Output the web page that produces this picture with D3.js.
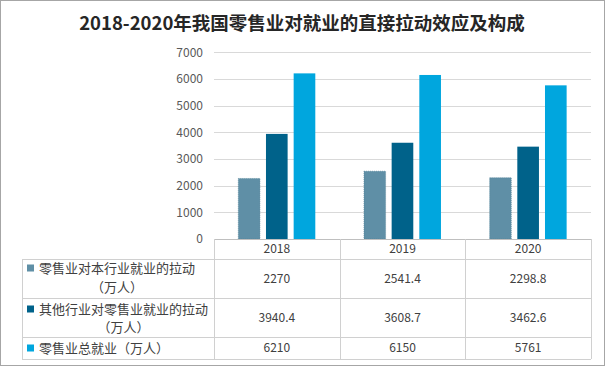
<!DOCTYPE html>
<html><head><meta charset="utf-8">
<script src="https://cdn.jsdelivr.net/npm/d3@7"></script>
<style>
html,body{margin:0;padding:0;background:#fff;}
svg{display:block;}
text{font-family:"Noto Sans CJK SC","Noto Sans",sans-serif;}
</style></head>
<body>
<script>
const title = "2018-2020年我国零售业对就业的直接拉动效应及构成";
const years = ["2018","2019","2020"];
const seriesNames = [["零售业对本行业就业的拉动","（万人）"],["其他行业对零售业就业的拉动","（万人）"],["零售业总就业（万人）"]];
const seriesLabels = [["2270","2541.4","2298.8"],["3940.4","3608.7","3462.6"],["6210","6150","5761"]];
const s1 = [2270,2541.4,2298.8];
const s2 = [3940.4,3608.7,3462.6];
const s3 = [6210,6150,5761];
const yTicks = [0,1000,2000,3000,4000,5000,6000,7000];
const colors = ["#5f8fa6","#00628a","#00a6de"];

const W=605,H=366;
const svg=d3.select("body").append("svg").attr("width",W).attr("height",H);
svg.append("rect").attr("x",0.5).attr("y",0.5).attr("width",W-1).attr("height",H-1).attr("fill","#fff").attr("stroke","#a6a6a6");

svg.append("text").attr("x",302).attr("y",30).attr("text-anchor","middle")
  .attr("font-size",18.5).attr("font-weight","bold").attr("fill","#262626").text(title);

const plotL=214, plotR=591, base=239, topY=52.3;
const y=d3.scaleLinear().domain([0,7000]).range([base,topY]);
const x0=d3.scaleBand().domain(years).range([plotL,plotR]).padding(0);
const x1=d3.scaleBand().domain([0,1,2]).range([24.3,101.3]).paddingInner(0.218).paddingOuter(0);

// grid
svg.append("g").selectAll("line").data(yTicks.filter(d=>d>0)).join("line")
  .attr("x1",plotL).attr("x2",plotR).attr("y1",d=>Math.round(y(d))+0.5).attr("y2",d=>Math.round(y(d))+0.5)
  .attr("stroke","#d9d9d9").attr("stroke-width",1);

// y axis labels via axis
const yAxis=svg.append("g").attr("transform",`translate(${plotL},0)`)
  .call(d3.axisLeft(y).tickValues(yTicks).tickSize(0).tickPadding(11).tickFormat(d3.format("d")));
yAxis.select(".domain").remove();
yAxis.selectAll("text").attr("font-size",12).attr("fill","#595959").attr("font-family","'Noto Sans','Open Sans',sans-serif");

// bars
const data=[s1,s2,s3];
const g=svg.append("g");
years.forEach((yr,i)=>{
  data.forEach((s,j)=>{
    g.append("rect").attr("x",x0(yr)+x1(j)).attr("y",y(s[i]))
     .attr("width",x1.bandwidth()).attr("height",base-y(s[i]))
     .attr("fill",colors[j])
     .attr("stroke",j===0?"#4f7f96":"none").attr("stroke-width",j===0?0.6:0)
     .attr("stroke-dasharray",j===0?"1,1":null);
  });
});

// table
const rows=[259,298,337,359];
const tl=22;
const lineC="#d0d0d0";
const tg=svg.append("g");
// axis line / header top
tg.append("line").attr("x1",plotL).attr("x2",plotR).attr("y1",base+0.5).attr("y2",base+0.5).attr("stroke","#bfbfbf");
rows.forEach(r=>tg.append("line").attr("x1",tl).attr("x2",plotR).attr("y1",r+0.5).attr("y2",r+0.5).attr("stroke",lineC));
const vx=[plotL].concat(years.map(yr=>x0(yr)+x0.bandwidth()));
vx.forEach(v=>tg.append("line").attr("x1",Math.round(v)+0.5).attr("x2",Math.round(v)+0.5).attr("y1",base).attr("y2",rows[3]).attr("stroke",lineC));
tg.append("line").attr("x1",tl+0.5).attr("x2",tl+0.5).attr("y1",rows[0]).attr("y2",rows[3]).attr("stroke",lineC);

// header years
years.forEach(yr=>{
  tg.append("text").attr("x",x0(yr)+x0.bandwidth()/2).attr("y",249).attr("dy","0.35em")
    .attr("text-anchor","middle").attr("font-size",12).attr("fill","#404040")
    .attr("font-family","'Noto Sans','Open Sans',sans-serif").text(yr);
});

// row labels and values
const rowLines=[[268,287],[309,327],[348]];
seriesNames.forEach((nm,j)=>{
  const ly=rowLines[j];
  tg.append("rect").attr("x",27).attr("y",ly[0]-3.5).attr("width",7).attr("height",7).attr("fill",colors[j]);
  const t1=tg.append("text").attr("x",39).attr("y",ly[0]).attr("dy","0.36em")
    .attr("font-size",13).attr("fill","#404040").text(nm[0]);
  if(nm.length>1){
    const w=t1.node().getComputedTextLength();
    tg.append("text").attr("x",39+w/2).attr("y",ly[1]).attr("dy","0.36em").attr("text-anchor","middle")
      .attr("font-size",13).attr("fill","#404040").text(nm[1]);
  }
  const cy=(rows[j]+rows[j+1])/2;
  years.forEach((yr,i)=>{
    tg.append("text").attr("x",x0(yr)+x0.bandwidth()/2).attr("y",cy).attr("dy","0.35em")
      .attr("text-anchor","middle").attr("font-size",12).attr("fill","#404040")
      .attr("font-family","'Noto Sans','Open Sans',sans-serif").text(seriesLabels[j][i]);
  });
});
</script>
</body></html>
